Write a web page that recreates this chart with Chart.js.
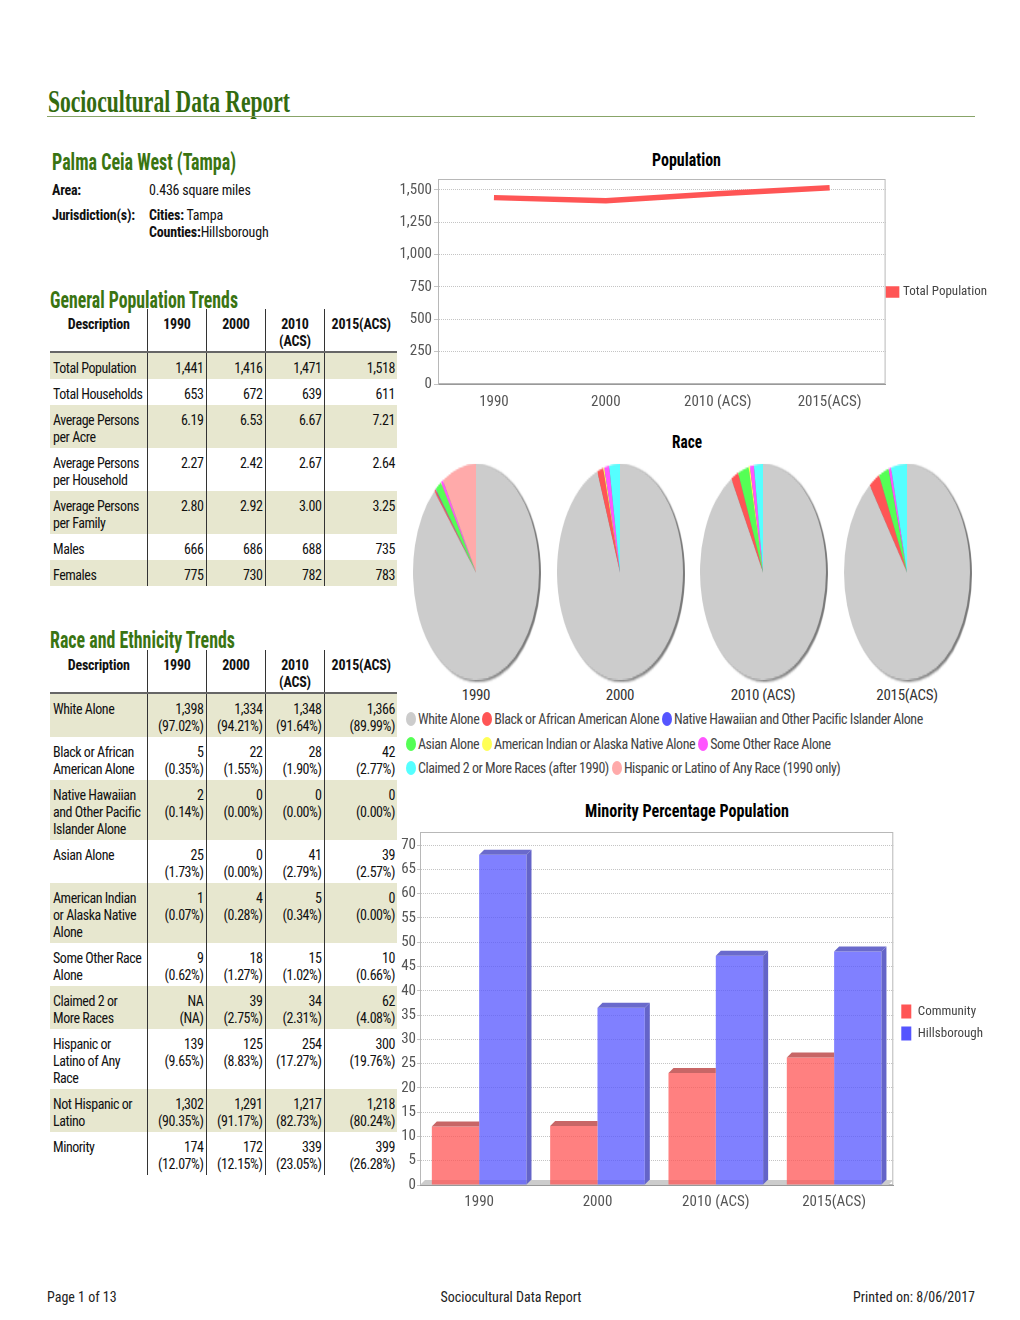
<!DOCTYPE html>
<html><head><meta charset="utf-8">
<script src="https://cdn.jsdelivr.net/npm/chart.js@4.4.1/dist/chart.umd.min.js"></script>
<style>
html,body{margin:0;padding:0;background:#fff;}
body{width:1020px;height:1320px;position:relative;overflow:hidden;font-family:"Roboto Condensed","Open Sans",sans-serif;color:#111;}
.abs{position:absolute;white-space:nowrap;}
.title{left:48px;top:85px;font-family:"Liberation Serif",serif;font-weight:bold;font-size:32px;line-height:32px;color:#336b10;transform-origin:0 0;}
.rule{left:47px;top:116px;width:928px;height:1px;background:#88a468;}
.h2{font-weight:bold;font-size:23px;line-height:24px;color:#3a7412;transform-origin:0 0;}
.txt{font-size:14px;line-height:17px;letter-spacing:-0.2px;}
.b{font-weight:bold;}
.ctitle{font-weight:bold;font-size:18px;line-height:20px;color:#000;transform-origin:0 0;}
table.dt{position:absolute;left:50px;border-collapse:collapse;table-layout:fixed;width:347px;font-size:14px;line-height:17px;letter-spacing:-0.45px;}
table.dt td,table.dt th{padding:7px 2px 2px 3px;vertical-align:top;white-space:nowrap;overflow:visible;}
table.dt th{font-weight:bold;text-align:center;border-bottom:2px solid #666;padding-bottom:1px;letter-spacing:-0.2px;}
table.dt td{text-align:right;}
table.dt td.d{text-align:left;}
table.dt .c{border-left:1px solid #333;}
table.dt tr.s td{background:#e7e7cf;}
canvas{position:absolute;}
.pie{position:absolute;width:126px;height:126px;transform:scaleY(1.714);transform-origin:50% 50%;filter:drop-shadow(2px 1.5px 0.6px #7a7a7a);}
.plab{position:absolute;font-size:15px;line-height:17px;color:#333;transform:translateX(-50%);white-space:nowrap;letter-spacing:-0.3px;}
#plegend{position:absolute;left:406px;top:707px;width:532px;font-size:14px;line-height:24.5px;color:#444;letter-spacing:-0.45px;}
#plegend span.it{display:inline-block;margin-right:3px;white-space:nowrap;}
#plegend span.mk{display:inline-block;width:10px;height:14px;border-radius:50%;vertical-align:-2px;margin-right:2px;}
.foot{font-size:14px;line-height:17px;color:#222;}
</style></head>
<body>
<div class="abs title" data-fit="242">Sociocultural Data Report</div>
<div class="abs rule"></div>
<div class="abs h2" data-fit="184" style="left:52px;top:151px;">Palma Ceia West (Tampa)</div>
<div class="abs txt b" style="left:52px;top:182px;">Area:</div>
<div class="abs txt" style="left:149px;top:182px;">0.436 square miles</div>
<div class="abs txt b" style="left:52px;top:207px;">Jurisdiction(s):</div>
<div class="abs txt" style="left:149px;top:207px;"><span class="b">Cities:</span> Tampa<br><span class="b">Counties:</span>Hillsborough</div>
<div class="abs h2" data-fit="188" style="left:50px;top:289px;">General Population Trends</div>
<table class="dt" id="t1" style="top:309px;"></table>
<div class="abs h2" data-fit="185" style="left:50px;top:629px;">Race and Ethnicity Trends</div>
<table class="dt" id="t2" style="top:650px;"></table>

<div class="abs ctitle" data-fit="69" data-center="686" style="top:150px;">Population</div>
<canvas id="lineChart" width="602" height="248" style="left:395px;top:168px;"></canvas>

<div class="abs ctitle" data-fit="30" data-center="687" style="top:432px;">Race</div>
<div id="pies"></div>
<div id="plegend"></div>

<div class="abs ctitle" data-fit="204" data-center="687" style="top:801px;">Minority Percentage Population</div>
<canvas id="barChart" width="598" height="393" style="left:395px;top:822px;"></canvas>

<div class="abs foot" style="left:47px;top:1289px;">Page 1 of 13</div>
<div class="abs foot" style="left:511px;top:1289px;transform:translateX(-50%);">Sociocultural Data Report</div>
<div class="abs foot" style="right:45px;top:1289px;">Printed on: 8/06/2017</div>

<script>
// ---------------- DATA ----------------
const yearHeaders = ['1990', '2000', '2010\n(ACS)', '2015(ACS)'];
const years = ['1990', '2000', '2010 (ACS)', '2015(ACS)'];

const genLabels = ['Total Population', 'Total Households', 'Average Persons\nper Acre',
  'Average Persons\nper Household', 'Average Persons\nper Family', 'Males', 'Females'];
const genValues = [
  ['1,441', '1,416', '1,471', '1,518'],
  ['653', '672', '639', '611'],
  ['6.19', '6.53', '6.67', '7.21'],
  ['2.27', '2.42', '2.67', '2.64'],
  ['2.80', '2.92', '3.00', '3.25'],
  ['666', '686', '688', '735'],
  ['775', '730', '782', '783']
];

const raceLabels = ['White Alone', 'Black or African\nAmerican Alone', 'Native Hawaiian\nand Other Pacific\nIslander Alone',
  'Asian Alone', 'American Indian\nor Alaska Native\nAlone', 'Some Other Race\nAlone', 'Claimed 2 or\nMore Races',
  'Hispanic or\nLatino of Any\nRace', 'Not Hispanic or\nLatino', 'Minority'];
const raceCounts = [
  ['1,398', '1,334', '1,348', '1,366'],
  ['5', '22', '28', '42'],
  ['2', '0', '0', '0'],
  ['25', '0', '41', '39'],
  ['1', '4', '5', '0'],
  ['9', '18', '15', '10'],
  ['NA', '39', '34', '62'],
  ['139', '125', '254', '300'],
  ['1,302', '1,291', '1,217', '1,218'],
  ['174', '172', '339', '399']
];
const racePercents = [
  ['(97.02%)', '(94.21%)', '(91.64%)', '(89.99%)'],
  ['(0.35%)', '(1.55%)', '(1.90%)', '(2.77%)'],
  ['(0.14%)', '(0.00%)', '(0.00%)', '(0.00%)'],
  ['(1.73%)', '(0.00%)', '(2.79%)', '(2.57%)'],
  ['(0.07%)', '(0.28%)', '(0.34%)', '(0.00%)'],
  ['(0.62%)', '(1.27%)', '(1.02%)', '(0.66%)'],
  ['(NA)', '(2.75%)', '(2.31%)', '(4.08%)'],
  ['(9.65%)', '(8.83%)', '(17.27%)', '(19.76%)'],
  ['(90.35%)', '(91.17%)', '(82.73%)', '(80.24%)'],
  ['(12.07%)', '(12.15%)', '(23.05%)', '(26.28%)']
];

const totalPopulation = [1441, 1416, 1471, 1518];
const popTicks = [0, 250, 500, 750, 1000, 1250, 1500];

const pieCategories = ['White Alone', 'Black or African American Alone', 'Native Hawaiian and Other Pacific Islander Alone',
  'Asian Alone', 'American Indian or Alaska Native Alone', 'Some Other Race Alone',
  'Claimed 2 or More Races (after 1990)', 'Hispanic or Latino of Any Race (1990 only)'];
const race1990 = [1398, 5, 2, 25, 1, 9, 0, 139];
const race2000 = [1334, 22, 0, 0, 4, 18, 39, 0];
const race2010 = [1348, 28, 0, 41, 5, 15, 34, 0];
const race2015 = [1366, 42, 0, 39, 0, 10, 62, 0];

const community = [12.07, 12.15, 23.05, 26.28];
const hillsborough = [68.0, 36.5, 47.2, 48.1];
const minorityTicks = [0, 5, 10, 15, 20, 25, 30, 35, 40, 45, 50, 55, 60, 65, 70];

// ---------------- STYLES ----------------
const pieColors = ['#cccccc', '#ff5555', '#5555ff', '#55ff55', '#ffff55', '#ff55ff', '#55ffff', '#ffaaaa'];
const FONT = '"Roboto Condensed","Open Sans",sans-serif';
Chart.defaults.font.family = FONT;
Chart.defaults.font.size = 15;
Chart.defaults.color = '#555';

// fit headings to the widths seen in the picture
function fitAll() {
  document.querySelectorAll('[data-fit]').forEach(el => {
    el.style.transform = 'none';
    const w = el.getBoundingClientRect().width;
    const k = (+el.dataset.fit) / w;
    if (el.dataset.center) el.style.left = (+el.dataset.center - (+el.dataset.fit) / 2) + 'px';
    el.style.transform = 'scaleX(' + k + ')';
  });
}
fitAll();

// ---------------- TABLES ----------------
function headerRow() {
  let h = '<colgroup><col style="width:97px"><col style="width:59px"><col style="width:59px"><col style="width:59px"><col style="width:73px"></colgroup>';
  h += '<tr><th>Description</th>' + yearHeaders.map(y => '<th class="c">' + y.replace('\n', '<br>') + '</th>').join('') + '</tr>';
  return h;
}
(function () {
  let h = headerRow();
  genLabels.forEach((lab, i) => {
    h += '<tr class="' + (i % 2 === 0 ? 's' : '') + '"><td class="d">' + lab.replace('\n', '<br>') + '</td>' +
      genValues[i].map(v => '<td class="c">' + v + '</td>').join('') + '</tr>';
  });
  document.getElementById('t1').innerHTML = h;
  let h2 = headerRow();
  raceLabels.forEach((lab, i) => {
    h2 += '<tr class="' + (i % 2 === 0 ? 's' : '') + '"><td class="d">' + lab.split('\n').join('<br>') + '</td>' +
      raceCounts[i].map((v, j) => '<td class="c">' + v + '<br>' + racePercents[i][j] + '</td>').join('') + '</tr>';
  });
  document.getElementById('t2').innerHTML = h2;
})();

// ---------------- PLUGINS ----------------
const framePlugin = {
  id: 'frame',
  beforeDatasetsDraw(chart) {
    const { ctx, chartArea: a } = chart;
    ctx.save();
    ctx.strokeStyle = '#b8b8b8';
    ctx.lineWidth = 1;
    ctx.strokeRect(a.left + 0.5, a.top + 0.5, a.width - 1, a.height - 1);
    ctx.restore();
  }
};
const bar3d = {
  id: 'bar3d',
  beforeDatasetsDraw(chart) {
    const { ctx, chartArea: a } = chart;
    const d = 5;
    ctx.save();
    ctx.fillStyle = '#cccccc';
    ctx.beginPath();
    ctx.moveTo(a.left, a.bottom);
    ctx.lineTo(a.left + d, a.bottom - d);
    ctx.lineTo(a.right, a.bottom - d);
    ctx.lineTo(a.right - d, a.bottom);
    ctx.closePath();
    ctx.fill();
    ctx.restore();
  },
  afterDatasetsDraw(chart) {
    const { ctx } = chart;
    const d = 5;
    const tops = ['#c86666', '#6a6acc'];
    const sides = ['#c86666', '#6464c8'];
    ctx.save();
    chart.data.datasets.forEach((ds, di) => {
      chart.getDatasetMeta(di).data.forEach(el => {
        const { x, y, base, width } = el.getProps(['x', 'y', 'base', 'width'], true);
        const l = x - width / 2, r = x + width / 2;
        ctx.fillStyle = tops[di];
        ctx.beginPath();
        ctx.moveTo(l, y);
        ctx.lineTo(l + d, y - d);
        ctx.lineTo(r + (di ? d : 0), y - d);
        ctx.lineTo(r, y);
        ctx.closePath();
        ctx.fill();
        if (di === 1) {
          ctx.fillStyle = sides[di];
          ctx.beginPath();
          ctx.moveTo(r, y);
          ctx.lineTo(r + d, y - d);
          ctx.lineTo(r + d, base - d);
          ctx.lineTo(r, base);
          ctx.closePath();
          ctx.fill();
        }
      });
    });
    ctx.restore();
  }
};

// ---------------- LINE CHART ----------------
new Chart(document.getElementById('lineChart'), {
  type: 'line',
  data: {
    labels: years,
    datasets: [{
      label: 'Total Population', data: totalPopulation,
      borderColor: '#ff5555', backgroundColor: '#ff5555', borderWidth: 5.5,
      pointRadius: 0, tension: 0
    }]
  },
  options: {
    responsive: false, animation: false,
    layout: { padding: { top: 0, right: 0, left: 0, bottom: 0 } },
    plugins: {
      legend: {
        position: 'right',
        labels: { boxWidth: 9, boxHeight: 6, padding: 2, color: '#444', font: { size: 13 } }
      },
      tooltip: { enabled: false }
    },
    scales: {
      x: {
        offset: true, grid: { display: false },
        border: { color: '#999' },
        ticks: { color: '#555', maxRotation: 0, padding: 1 },
        afterFit(s) { s.height = 32; }
      },
      y: {
        min: 0, max: 1585,
        afterBuildTicks(s) { s.ticks = popTicks.map(v => ({ value: v })); },
        grid: { color: '#c4c4c4', drawTicks: true, tickLength: 4 },
        border: { color: '#b8b8b8', dash: [1, 1] },
        ticks: { color: '#555', padding: 2 },
        afterFit(s) { s.width = 43; }
      }
    }
  },
  plugins: [framePlugin]
});

// ---------------- PIES ----------------
const pieData = [race1990, race2000, race2010, race2015];
const pieCentersX = [476, 620, 763, 907];
const piesDiv = document.getElementById('pies');
pieData.forEach((vals, i) => {
  const wrap = document.createElement('div');
  wrap.className = 'pie';
  wrap.style.left = (pieCentersX[i] - 63) + 'px';
  wrap.style.top = (572 - 63) + 'px';
  const cv = document.createElement('canvas');
  cv.width = 126; cv.height = 126;
  cv.style.left = '0px'; cv.style.top = '0px';
  wrap.appendChild(cv);
  piesDiv.appendChild(wrap);
  const lab = document.createElement('div');
  lab.className = 'plab';
  lab.style.left = pieCentersX[i] + 'px';
  lab.style.top = '687px';
  lab.textContent = years[i];
  piesDiv.appendChild(lab);
  new Chart(cv, {
    type: 'pie',
    data: { labels: pieCategories, datasets: [{ data: vals, backgroundColor: pieColors, borderWidth: 0 }] },
    options: {
      responsive: false, animation: false,
      layout: { padding: 0 },
      plugins: { legend: { display: false }, tooltip: { enabled: false } }
    }
  });
});
document.getElementById('plegend').innerHTML = pieCategories.map((c, i) =>
  '<span class="it"><span class="mk" style="background:' + pieColors[i] + '"></span>' + c + '</span>').join('');

// ---------------- BAR CHART ----------------
const barSolid = ['#ff5555', '#5555ff'];
new Chart(document.getElementById('barChart'), {
  type: 'bar',
  data: {
    labels: years,
    datasets: [
      { label: 'Community', data: community, backgroundColor: 'rgba(255,85,85,0.75)', borderWidth: 0 },
      { label: 'Hillsborough', data: hillsborough, backgroundColor: 'rgba(85,85,255,0.75)', borderWidth: 0 }
    ]
  },
  options: {
    responsive: false, animation: false,
    categoryPercentage: 0.8, barPercentage: 1.0,
    layout: { padding: { top: 8, right: 0, left: 0, bottom: 0 } },
    plugins: {
      legend: {
        position: 'right',
        labels: {
          boxWidth: 10, boxHeight: 14, padding: 8, color: '#444', font: { size: 13 },
          generateLabels(chart) {
            const items = Chart.defaults.plugins.legend.labels.generateLabels(chart);
            items.forEach((it, i) => { it.fillStyle = barSolid[i]; it.strokeStyle = barSolid[i]; it.lineWidth = 0; });
            return items;
          }
        }
      },
      tooltip: { enabled: false }
    },
    scales: {
      x: {
        grid: { display: false },
        border: { color: '#999' },
        ticks: { color: '#555', maxRotation: 0, padding: 0 },
        afterFit(s) { s.height = 30; }
      },
      y: {
        min: 0, max: 72.7,
        afterBuildTicks(s) { s.ticks = minorityTicks.map(v => ({ value: v })); },
        grid: { color: '#c4c4c4', tickLength: 3 },
        border: { color: '#999', dash: [1, 1] },
        ticks: { color: '#555', padding: 1 },
        afterFit(s) { s.width = 25; }
      }
    }
  },
  plugins: [framePlugin, bar3d]
});
</script>
</body></html>
